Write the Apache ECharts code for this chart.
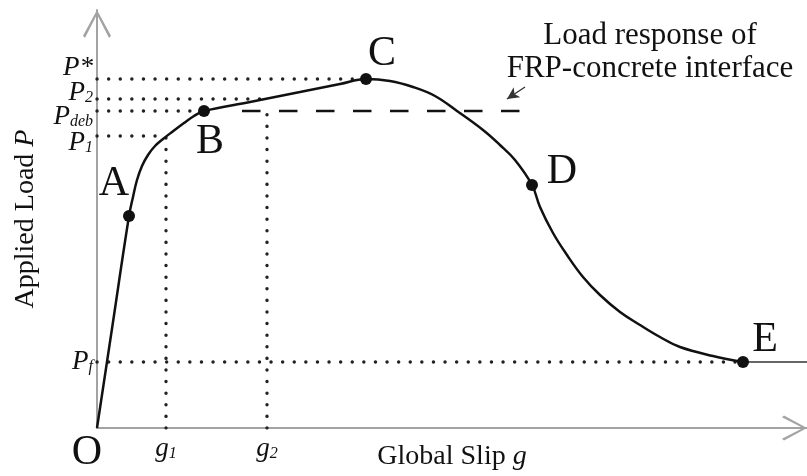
<!DOCTYPE html>
<html>
<head>
<meta charset="utf-8">
<script src="https://cdn.jsdelivr.net/npm/echarts@6/dist/echarts.min.js"></script>
<style>
  html, body { margin: 0; padding: 0; background: #fff; }
  #chart { width: 807px; height: 476px; }
</style>
</head>
<body>
<div id="chart"></div>
<script>
  // global slip g / applied load P (schematic, arbitrary units)
  const curveSlip = [0, 1.6, 3.2, 3.6, 4.0, 4.5, 5.1, 5.8, 6.6, 7.5, 8.7, 9.7, 10.7, 15.3, 20.3, 24.3, 26.9,
    29.3, 31.6, 33.8, 36.0, 38.6, 40.3, 41.8, 43.5, 44.3, 45.6, 47.0, 48.6, 50.3, 52.3, 54.3, 56.3, 58.3, 61.6, 64.6];
  const curveLoad = [0, 10.6, 21.2, 23.1, 24.8, 26.2, 27.3, 28.2, 28.9, 29.6, 30.5, 31.2, 31.7, 32.6, 33.6, 34.4, 34.9,
    34.7, 34.1, 33.2, 31.7, 29.8, 28.3, 26.8, 24.3, 22.1, 19.5, 17.3, 15.1, 13.3, 11.6, 10.3, 9.1, 8.1, 7.2, 6.6];

  const pointNames = ['O', 'A', 'B', 'C', 'D', 'E'];
  const pointSlip = [0, 3.2, 10.7, 26.9, 43.5, 64.6];
  const pointLoad = [0, 21.2, 31.7, 34.9, 24.3, 6.6];

  const loadTickLabels = ['{p|P*}', '{p|P}{s|2}', '{p|P}{s|deb}', '{p|P}{s|1}', '{p|P}{s|f}'];
  const loadTickValues = [34.9, 32.9, 31.7, 29.2, 6.6];
  const loadGuideEnds = [26.9, 17.0, 10.7, 6.9, 64.6];

  const slipTickLabels = ['{g|g}{s|1}', '{g|g}{s|2}'];
  const slipTickValues = [6.9, 17.0];
  const slipGuideTops = [29.2, 31.5];

  const debondLoad = 31.7;
  const debondSlip = [14.5, 42.6];
  const residualSlip = [64.6, 71];
  const noteArrow = [[42.8, 34.1], [41.0, 32.9]];

  const serif = '"Liberation Serif", "DejaVu Serif", serif';
  const ink = '#111';
  const axisGrey = '#a3a3a3';

  // label nudges, px
  const pointLabelOffsets = [[-10, 25], [-15, -32], [6, 31], [16, -25], [30, -13], [22, -22]];
  const loadTickOffsets = [[0, -11], [0, -6], [0, 6], [0, 7], [0, 0]];

  const chevron = 'path://M50,0 L100,92 L93,100 L50,16 L7,100 L0,92 Z';

  const dotted = {color: '#222', width: 3.4, type: [0.1, 11.5], cap: 'round'};

  const richTick = {
    p: {fontFamily: serif, fontStyle: 'italic', fontSize: 27, color: ink},
    g: {fontFamily: serif, fontStyle: 'italic', fontSize: 27, color: ink},
    s: {fontFamily: serif, fontStyle: 'italic', fontSize: 16, color: ink, padding: [10, 0, 0, 0]}
  };

  const series = [];

  loadTickValues.forEach(function (v, i) {
    series.push({
      type: 'line', symbol: 'none', silent: true, z: 1,
      data: [[0, v], [loadGuideEnds[i], v]],
      lineStyle: dotted
    });
  });
  slipTickValues.forEach(function (v, i) {
    series.push({
      type: 'line', symbol: 'none', silent: true, z: 1,
      data: [[v, 0], [v, slipGuideTops[i]]],
      lineStyle: dotted
    });
  });

  series.push({
    type: 'line', symbol: 'none', silent: true, z: 2,
    data: [[debondSlip[0], debondLoad], [debondSlip[1], debondLoad]],
    lineStyle: {color: ink, width: 2.6, type: [18.5, 18.5]},
    markLine: {
      silent: true,
      symbol: ['none', 'arrow'],
      symbolSize: [9, 12],
      label: {show: false},
      lineStyle: {color: '#333', width: 1.4, type: 'solid'},
      data: [[{coord: noteArrow[0]}, {coord: noteArrow[1]}]]
    }
  });

  series.push({
    type: 'line', symbol: 'none', silent: true, z: 3,
    data: [[residualSlip[0], pointLoad[5]], [residualSlip[1], pointLoad[5]]],
    lineStyle: {color: '#333', width: 1.6}
  });

  series.push({
    type: 'line', symbol: 'none', smooth: 0.4, silent: true, z: 4,
    data: curveSlip.map(function (g, i) { return [g, curveLoad[i]]; }),
    lineStyle: {color: ink, width: 2.5}
  });

  series.push({
    type: 'scatter', silent: true, z: 5,
    itemStyle: {color: ink, opacity: 1},
    data: pointNames.map(function (n, i) {
      return {
        name: n,
        value: [pointSlip[i], pointLoad[i]],
        symbolSize: n === 'O' ? 0 : 12,
        label: {offset: pointLabelOffsets[i]}
      };
    }),
    label: {
      show: true, position: 'inside', formatter: '{b}',
      fontFamily: serif, fontSize: 42, color: ink
    }
  });

  series.push({
    type: 'scatter', silent: true, z: 5, symbolSize: 0,
    itemStyle: {opacity: 1},
    data: loadTickValues.map(function (v, i) {
      return {value: [0, v], label: {formatter: loadTickLabels[i], offset: loadTickOffsets[i]}};
    }).concat(slipTickValues.map(function (v, i) {
      return {value: [v, 0], label: {formatter: slipTickLabels[i], position: 'bottom', distance: 7}};
    })),
    label: {show: true, position: 'left', distance: 4, rich: richTick}
  });

  const chart = echarts.init(document.getElementById('chart'));
  chart.setOption({
    animation: false,
    backgroundColor: '#fff',
    grid: {left: 97, right: 0, top: 10, bottom: 48},
    xAxis: {
      type: 'value', min: 0, max: 71,
      name: '{n|Global Slip }{i|g}',
      nameLocation: 'middle', nameGap: 15,
      nameTextStyle: {
        rich: {
          n: {fontFamily: serif, fontSize: 28, color: ink},
          i: {fontFamily: serif, fontSize: 28, fontStyle: 'italic', color: ink}
        }
      },
      axisLine: {
        lineStyle: {color: axisGrey, width: 2},
        symbol: ['none', chevron], symbolSize: [30, 25], symbolOffset: [0, -12.5]
      },
      axisTick: {show: false}, axisLabel: {show: false}, splitLine: {show: false}
    },
    yAxis: {
      type: 'value', min: 0, max: 41.8,
      name: '{n|Applied Load }{i|P}',
      nameLocation: 'middle', nameGap: 57, nameRotate: 90,
      nameTextStyle: {
        rich: {
          n: {fontFamily: serif, fontSize: 28, color: ink},
          i: {fontFamily: serif, fontSize: 28, fontStyle: 'italic', color: ink}
        }
      },
      axisLine: {
        show: true,
        lineStyle: {color: axisGrey, width: 2},
        symbol: ['none', chevron], symbolSize: [28, 28], symbolOffset: [0, -14]
      },
      axisTick: {show: false}, axisLabel: {show: false}, splitLine: {show: false}
    },
    graphic: [{
      type: 'text', x: 650, y: 19, silent: true,
      style: {
        text: 'Load response of\nFRP-concrete interface',
        font: '31px ' + serif, fill: ink,
        textAlign: 'center', textVerticalAlign: 'top', lineHeight: 33
      }
    }],
    series: series
  });
</script>
</body>
</html>
